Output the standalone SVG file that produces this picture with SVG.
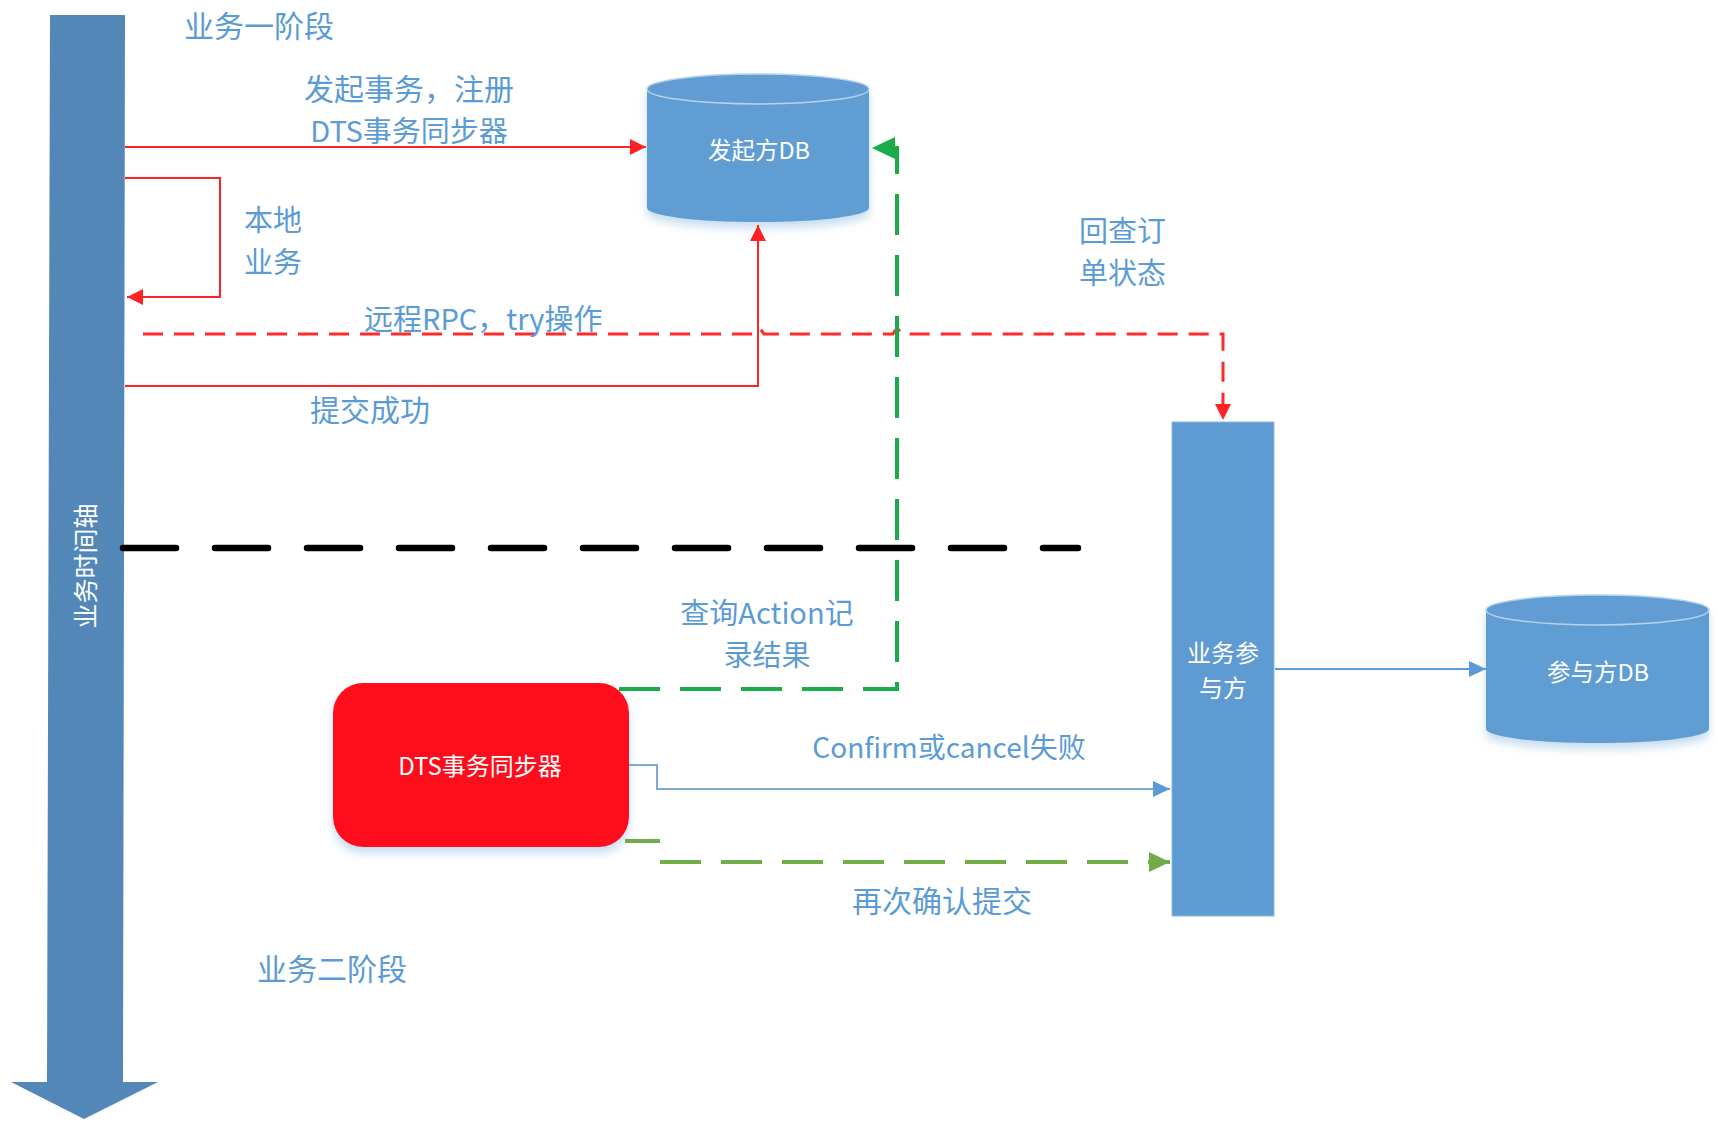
<svg xmlns="http://www.w3.org/2000/svg" width="1730" height="1131" viewBox="0 0 1730 1131">
<style>
.lbl{font-family:"Noto Sans CJK SC","Noto Sans",sans-serif;font-size:30px;fill:#5b9bd5;dominant-baseline:central}
.mx{font-size:29px}
.wt{font-family:"Noto Sans CJK SC","Noto Sans",sans-serif;fill:#ffffff;dominant-baseline:central;text-anchor:middle}
.mid{text-anchor:middle}
.red{fill:none;stroke:#ff2222;stroke-width:2}
.cyl{fill:#619dd3}
.cyltop{fill:#619dd3;stroke:#b8d2ec;stroke-width:1.5}
</style>
<defs>
<filter id="sh" x="-20%" y="-20%" width="140%" height="150%">
<feDropShadow dx="0" dy="6" stdDeviation="5" flood-color="#5b9bd5" flood-opacity="0.35"/>
</filter>
<marker id="aRed" markerUnits="userSpaceOnUse" markerWidth="16" markerHeight="16" refX="16" refY="8" orient="auto">
<path d="M0,0 L16,8 L0,16 Z" fill="#ff2222"/>
</marker>
<marker id="aGreen" markerUnits="userSpaceOnUse" markerWidth="24" markerHeight="22" refX="23" refY="11" orient="auto">
<path d="M0,0 L23,11 L0,22 Z" fill="#1aab4b"/>
</marker>
<marker id="aOlive" markerUnits="userSpaceOnUse" markerWidth="22" markerHeight="20" refX="21" refY="10" orient="auto">
<path d="M0,0 L21,10 L0,20 Z" fill="#70ad47"/>
</marker>
<marker id="aBlue" markerUnits="userSpaceOnUse" markerWidth="18" markerHeight="16" refX="17" refY="8" orient="auto">
<path d="M0,0 L17,8 L0,16 Z" fill="#5b9bd5"/>
</marker>
</defs>
<rect width="1730" height="1131" fill="#ffffff"/>

<g id="timeline">
<polygon points="50,15 125,15 123,1082 158,1082 84,1119 11,1082 47,1082" fill="#5287b8"/>
<text class="wt" font-size="25" transform="translate(84,566) rotate(-90)">业务时间轴</text>
</g>

<g id="initiator-db">
<path class="cyl" filter="url(#sh)" d="M647,89 V208 A111,14 0 0 0 869,208 V89 A111,15 0 0 0 647,89 Z"/>
<ellipse class="cyltop" cx="758" cy="89" rx="111" ry="15"/>
<text class="wt" font-size="23.5" x="759" y="149">发起方DB</text>
</g>

<g id="participant">
<rect x="1172" y="422" width="102" height="494" fill="#5f9bd3" stroke="#8fb6e0" stroke-width="1"/>
<text class="wt" font-size="24"><tspan x="1223" y="651">业务参</tspan><tspan x="1223" y="686">与方</tspan></text>
</g>

<g id="participant-db">
<path class="cyl" filter="url(#sh)" d="M1486,610 V729 A111.5,14 0 0 0 1709,729 V610 A111.5,15 0 0 0 1486,610 Z"/>
<ellipse class="cyltop" cx="1597.5" cy="610" rx="111.5" ry="15"/>
<text class="wt" font-size="23.5" x="1598" y="671">参与方DB</text>
</g>

<g id="dts-sync">
<rect x="333" y="683" width="296" height="164" rx="30" ry="30" fill="#ff0d1f" filter="url(#sh)"/>
<text class="wt" font-size="24" x="480" y="764">DTS事务同步器</text>
</g>

<g id="connectors">
<line x1="125" y1="147" x2="646" y2="147" class="red" marker-end="url(#aRed)"/>
<path d="M125,178 H220 V297 H127" class="red" marker-end="url(#aRed)"/>
<path d="M125,386 H758 V225" class="red" stroke-width="1.6" marker-end="url(#aRed)"/>
<path d="M143,334 H755 q4,-9 9,0 H893 q4,-9 9,0 H1223 V420" fill="none" stroke="#ff2a2a" stroke-width="3" stroke-dasharray="20 11" marker-end="url(#aRed)"/>
<line x1="123" y1="548" x2="1078" y2="548" stroke="#000000" stroke-width="6.5" stroke-linecap="round" stroke-dasharray="53 39"/>
<path d="M619,689 H897 V148 H872" fill="none" stroke="#1aab4b" stroke-width="4" stroke-dasharray="41 20" marker-end="url(#aGreen)"/>
<path d="M629,765 H657 V789 H1170" fill="none" stroke="#7fa8d8" stroke-width="2" marker-end="url(#aBlue)"/>
<line x1="625" y1="841" x2="660" y2="841" stroke="#70ad47" stroke-width="4"/>
<path d="M660,862 H1170" fill="none" stroke="#70ad47" stroke-width="4" stroke-dasharray="41 20" marker-end="url(#aOlive)"/>
<line x1="1275" y1="669" x2="1486" y2="669" stroke="#5b9bd5" stroke-width="2" marker-end="url(#aBlue)"/>
</g>

<g id="labels">
<text class="lbl" x="184" y="24">业务一阶段</text>
<text class="lbl mid"><tspan x="409" y="87">发起事务，注册</tspan><tspan x="409" y="129" style="font-size:29px">DTS事务同步器</tspan></text>
<text class="lbl mx"><tspan x="244" y="218">本地</tspan><tspan x="244" y="260">业务</tspan></text>
<text class="lbl mx" x="364" y="317">远程RPC，try操作</text>
<text class="lbl mid" x="370" y="408">提交成功</text>
<text class="lbl mx"><tspan x="1079" y="229">回查订</tspan><tspan x="1079" y="271">单状态</tspan></text>
<text class="lbl mid"><tspan x="767" y="611" style="font-size:29px">查询Action记</tspan><tspan x="767" y="653" style="font-size:29px">录结果</tspan></text>
<text class="lbl mid" style="font-size:28px" x="949" y="746">Confirm或cancel失败</text>
<text class="lbl mid" x="942" y="899">再次确认提交</text>
<text class="lbl" x="257" y="967">业务二阶段</text>
</g>
</svg>
